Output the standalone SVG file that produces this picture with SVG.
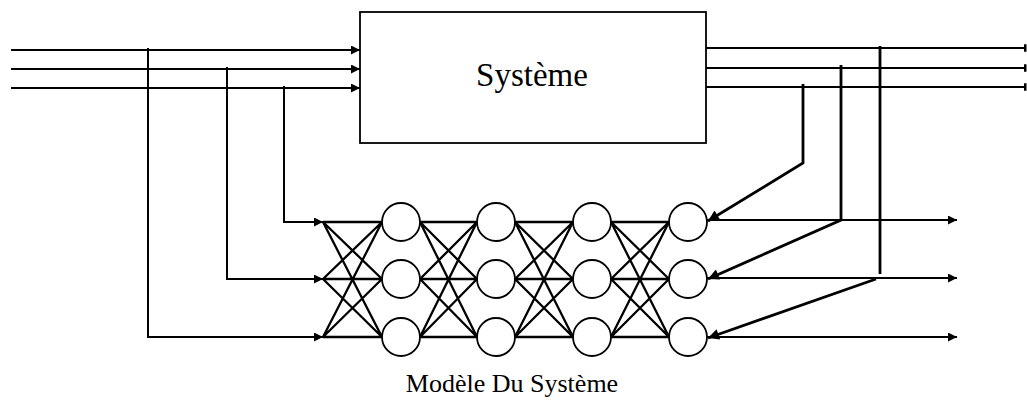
<svg xmlns="http://www.w3.org/2000/svg" width="1027" height="410" viewBox="0 0 1027 410">
<style>
.w{stroke:#000;stroke-width:2;fill:none}
.f{stroke:#000;stroke-width:2.8;fill:none}
.l{stroke:#000;stroke-width:2.3;fill:none}
.n{stroke:#000;stroke-width:1.8;fill:#fff}
.t{font-family:"Liberation Serif","Times New Roman",serif;fill:#000}
</style>
<defs>
<marker id="a" viewBox="0 0 10 10" refX="10" refY="5" markerWidth="11" markerHeight="9" markerUnits="userSpaceOnUse" orient="auto"><path d="M0,0 L10,5 L0,10 z" fill="#000"/></marker>
<marker id="b" viewBox="0 0 10 10" refX="10" refY="5" markerWidth="15" markerHeight="11" markerUnits="userSpaceOnUse" orient="auto"><path d="M0,0 L10,5 L0,10 z" fill="#000"/></marker>
<marker id="tk" viewBox="0 0 4 10" refX="2" refY="5" markerWidth="3" markerHeight="10" markerUnits="userSpaceOnUse" orient="auto"><rect x="0" y="0" width="4" height="10" fill="#000"/></marker>
</defs>
<g id="connectors">
<path class="w" d="M11,50 H360" marker-end="url(#a)"/>
<path class="w" d="M11,69 H360" marker-end="url(#a)"/>
<path class="w" d="M11,88 H360" marker-end="url(#a)"/>
<path class="w" d="M148,48 V337 H323" marker-end="url(#a)"/>
<path class="w" d="M227,67 V279 H323" marker-end="url(#a)"/>
<path class="w" d="M284,86 V222 H323" marker-end="url(#a)"/>
<path class="w" d="M706,48 H1025" marker-end="url(#tk)"/>
<path class="w" d="M706,68 H1025" marker-end="url(#tk)"/>
<path class="w" d="M706,87 H1025" marker-end="url(#tk)"/>
<path class="f" d="M803,84 V163 L708,221" marker-end="url(#b)"/>
<path class="f" d="M841,65 V220 L708,279" marker-end="url(#b)"/>
<path class="f" d="M880,46 V274"/>
<path class="f" d="M876,279 L708,338" marker-end="url(#b)"/>
<path class="w" d="M707,220 H957" marker-end="url(#a)"/>
<path class="w" d="M707,278 H957" marker-end="url(#a)"/>
<path class="w" d="M707,337 H957" marker-end="url(#a)"/>
<g class="l">
<path d="M323,222 L382,222 M323,222 L382,279 M323,222 L382,337 M323,279 L382,222 M323,279 L382,279 M323,279 L382,337 M323,337 L382,222 M323,337 L382,279 M323,337 L382,337"/>
<path d="M420,222 L477,222 M420,222 L477,279 M420,222 L477,337 M420,279 L477,222 M420,279 L477,279 M420,279 L477,337 M420,337 L477,222 M420,337 L477,279 M420,337 L477,337"/>
<path d="M515,222 L573,222 M515,222 L573,279 M515,222 L573,337 M515,279 L573,222 M515,279 L573,279 M515,279 L573,337 M515,337 L573,222 M515,337 L573,279 M515,337 L573,337"/>
<path d="M611,222 L669,222 M611,222 L669,279 M611,222 L669,337 M611,279 L669,222 M611,279 L669,279 M611,279 L669,337 M611,337 L669,222 M611,337 L669,279 M611,337 L669,337"/>
</g>
</g>
<g id="systeme">
<rect x="360" y="12" width="346" height="131" class="n" stroke-width="2"/>
<text class="t" x="532" y="86" font-size="33" text-anchor="middle">Système</text>
</g>
<g id="layer1">
<circle class="n" cx="401" cy="222" r="19"/>
<circle class="n" cx="401" cy="279" r="19"/>
<circle class="n" cx="401" cy="337" r="19"/>
</g>
<g id="layer2">
<circle class="n" cx="496" cy="222" r="19"/>
<circle class="n" cx="496" cy="279" r="19"/>
<circle class="n" cx="496" cy="337" r="19"/>
</g>
<g id="layer3">
<circle class="n" cx="592" cy="222" r="19"/>
<circle class="n" cx="592" cy="279" r="19"/>
<circle class="n" cx="592" cy="337" r="19"/>
</g>
<g id="layer4">
<circle class="n" cx="688" cy="222" r="19"/>
<circle class="n" cx="688" cy="279" r="19"/>
<circle class="n" cx="688" cy="337" r="19"/>
</g>
<g id="label">
<text class="t" x="512" y="392" font-size="26" text-anchor="middle">Modèle Du Système</text>
</g>
</svg>
